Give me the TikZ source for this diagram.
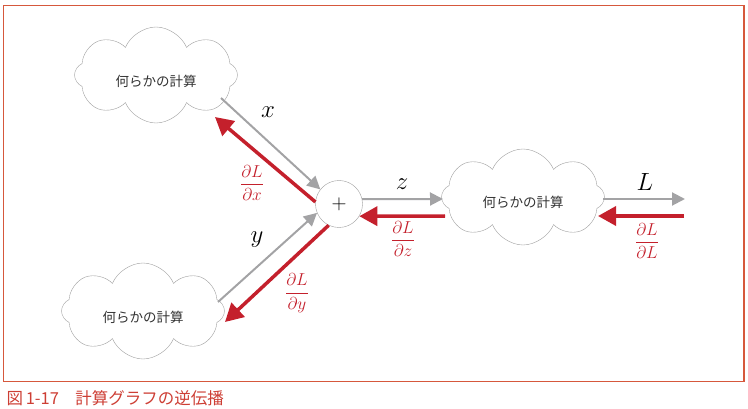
\documentclass[tikz,border=0pt]{standalone}
\usepackage{amsmath}
\usepackage{xcolor}
\usepackage{fontspec}
\usepackage{tikz}
\usetikzlibrary{arrows.meta, positioning, shapes, calc}
\newfontfamily\jpfont{Noto Sans CJK JP}
\definecolor{fwdgray}{RGB}{163,163,165}
\definecolor{backred}{RGB}{196,32,44}
\definecolor{framered}{RGB}{214,88,60}
\definecolor{captred}{RGB}{205,62,52}

\begin{document}
\begin{tikzpicture}[x=1pt, y=-1pt,
    cloudbox/.style={cloud, cloud puffs=8, cloud puff arc=135, cloud ignores aspect,
      draw=gray!75, fill=white, minimum width=163pt, minimum height=96pt,
      font=\jpfont\fontsize{13.5}{15}\selectfont, text=black!80},
    fwd/.style={draw=fwdgray, line width=2pt, -{Triangle[length=13pt, width=13pt]}, fill=fwdgray},
    bwd/.style={draw=backred, line width=3.5pt, -{Triangle[length=18pt, width=19pt]}, fill=backred},
    var/.style={font=\fontsize{23}{26}\selectfont},
    grad/.style={font=\fontsize{16}{18}\selectfont, text=backred}
  ]
      \useasboundingbox (0,0) rectangle (748,409);

      % Frame and caption
      \draw[framered, line width=1.2pt] (3.5,5.5) rectangle (744,381.5);
      \node[anchor=west, text=captred, font=\jpfont\fontsize{16.5}{18}\selectfont] (caption) at (3,398) {図\,1-17　計算グラフの逆伝播};

      % Computation clouds and the add node
      \node[cloudbox] (c1) at (156,75) {\raisebox{-12pt}[0pt][0pt]{何らかの計算}};
      \node[cloudbox] (c2) at (143,311) {\raisebox{-12pt}[0pt][0pt]{何らかの計算}};
      \node[cloudbox] (c3) at (523,197) {\raisebox{-10pt}[0pt][0pt]{何らかの計算}};
      \node[circle, draw=gray!75, fill=white, minimum size=47pt, inner sep=0pt, font=\fontsize{20}{22}\selectfont] (plus) at (339,204) {$+$};

      % Free ends on the right
      \coordinate (Lout) at (685,199);
      \coordinate (Lin) at (684,216);

      % Forward pass (gray)
      \draw[fwd] ($(c1)+(65,23)$) -- (plus.142);
      \draw[fwd] ($(c2)+(75,-9)$) -- (plus.202);
      \draw[fwd] (plus.12) -- ($(c3)+(-80,2)$);
      \draw[fwd] ($(c3)+(80,2)$) -- (Lout);

      % Backward pass (red)
      \draw[bwd] (plus.175) -- ($(c1)+(59,42)$);
      \draw[bwd] (plus.244) -- ($(c2)+(82,11)$);
      \draw[bwd] ($(c3)+(-78,19)$) -- (plus.-31);
      \draw[bwd] (Lin) -- ($(c3)+(75,19)$);

      % Variable labels
      \node[var] (lx) at (268,112) {$x$};
      \node[var] (ly) at (257,240) {$y$};
      \node[var] (lz) at (402,184) {$z$};
      \node[var] (lL) at (645,182) {$L$};

      % Gradient labels
      \node[grad] (gx) at (252,183) {$\dfrac{\partial L}{\partial x}$};
      \node[grad] (gy) at (297,293) {$\dfrac{\partial L}{\partial y}$};
      \node[grad] (gz) at (403,239) {$\dfrac{\partial L}{\partial z}$};
      \node[grad] (gL) at (647,241) {$\dfrac{\partial L}{\partial L}$};

\end{tikzpicture}
\end{document}
